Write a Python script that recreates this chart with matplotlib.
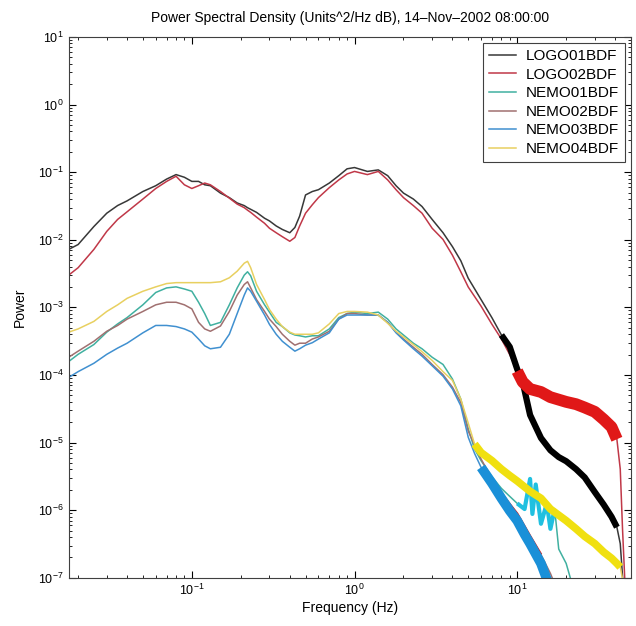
import numpy as np
import matplotlib
matplotlib.use("Agg")
import matplotlib.pyplot as plt

plt.rcParams['font.family'] = ['Liberation Sans', 'DejaVu Sans']

# shared frequency grid (Hz) for the low/mid part of every spectrum
freq_lo = [0.0175, 0.02, 0.025, 0.03, 0.035, 0.04, 0.05, 0.06, 0.07, 0.08,
           0.09, 0.1, 0.11, 0.12, 0.13, 0.15, 0.17, 0.19, 0.21, 0.22,
           0.23, 0.25, 0.28, 0.3, 0.33, 0.36, 0.4, 0.43, 0.46, 0.5,
           0.55, 0.6, 0.7, 0.8, 0.9, 1.0, 1.2, 1.4, 1.6, 1.8,
           2.0, 2.3, 2.6, 3.0, 3.5, 4.0, 4.5, 5.0]

logo01_lo = [0.0072, 0.0085, 0.0157, 0.0247, 0.0321, 0.0376, 0.0517, 0.063, 0.079, 0.092,
             0.084, 0.073, 0.073, 0.065, 0.063, 0.049, 0.042, 0.035, 0.032, 0.0298,
             0.0282, 0.0254, 0.0208, 0.019, 0.016, 0.0142, 0.0127, 0.0152, 0.0224, 0.046,
             0.0517, 0.055, 0.069, 0.0886, 0.112, 0.117, 0.1025, 0.108, 0.0886, 0.063,
             0.049, 0.04, 0.031, 0.020, 0.0127, 0.0079, 0.0049, 0.0027]
logo01_hf_f = [6, 7, 8, 9, 10, 10.8, 12, 14, 16, 18, 20, 23, 26, 30, 34, 38, 41, 43, 45, 46.4]
logo01_hf = [0.0013, 0.0007, 0.00039, 0.00026, 0.000122, 7.9e-5, 2.56e-5, 1.17e-5, 7.7e-6, 6.1e-6,
             5.3e-6, 4.05e-6, 3.05e-6, 1.85e-6, 1.21e-6, 8.0e-7, 5.6e-7, 3.2e-7, 6.7e-8, 2.2e-8]

logo02_lo = [0.003, 0.00386, 0.0072, 0.0133, 0.020, 0.0259, 0.04, 0.0573, 0.073, 0.087,
             0.065, 0.0573, 0.063, 0.069, 0.065, 0.0517, 0.0413, 0.0337, 0.0298, 0.0274,
             0.0254, 0.0216, 0.0175, 0.0148, 0.0127, 0.0111, 0.0095, 0.0108, 0.016, 0.0247,
             0.0329, 0.042, 0.059, 0.0767, 0.094, 0.1025, 0.092, 0.1025, 0.0767, 0.055,
             0.042, 0.032, 0.0247, 0.0148, 0.0101, 0.0059, 0.00336, 0.002]
logo02_hf_f = [6, 7, 8, 9, 10, 10.8, 12, 14, 16, 20, 23, 26, 30, 34, 38, 41, 43, 44.4, 46.4, 47.7]
logo02_hf = [0.00104, 0.00056, 0.00034, 0.0002, 0.000114, 7.9e-5, 6.2e-5, 5.6e-5, 4.7e-5, 4.0e-5,
             3.7e-5, 3.3e-5, 2.85e-5, 2.2e-5, 1.7e-5, 1.12e-5, 4.05e-6, 5.3e-7, 4.9e-8, 9e-9]

nemo01_lo = [0.000158, 0.000202, 0.000282, 0.00043, 0.00057, 0.000706, 0.00109, 0.00166, 0.00194, 0.00201,
             0.00187, 0.00173, 0.00119, 0.00081, 0.00054, 0.0006, 0.00109, 0.00194, 0.003, 0.00336,
             0.00293, 0.00173, 0.00109, 0.00085, 0.0006, 0.00052, 0.00042, 0.00039, 0.00038, 0.000365,
             0.00038, 0.00038, 0.00048, 0.000706, 0.00081, 0.00085, 0.00081, 0.00085, 0.00067, 0.00048,
             0.00039, 0.000295, 0.000244, 0.000183, 0.000143, 8.7e-5, 4.4e-5, 1.6e-5]
nemo01_hf_f = [5.47, 6, 7, 8, 9, 10, 11.1, 12, 12.4, 13.0, 14, 15.2, 16, 17.0, 18, 20, 21.3, 23, 24.2]
nemo01_hf = [8.0e-6, 5.4e-6, 3.1e-6, 2.1e-6, 1.6e-6, 1.26e-6, 1.04e-6, 2.9e-6, 8.8e-7, 2.4e-6,
             6.3e-7, 1.26e-6, 5.3e-7, 1.04e-6, 2.66e-7, 1.63e-7, 9.6e-8, 4.9e-8, 2.2e-8]

nemo02_lo = [0.000183, 0.000225, 0.000315, 0.000443, 0.00054, 0.00067, 0.00087, 0.00109, 0.00119, 0.00119,
             0.00109, 0.00095, 0.0006, 0.00048, 0.000443, 0.00053, 0.00087, 0.00152, 0.00218, 0.00239,
             0.00194, 0.0013, 0.00087, 0.00067, 0.00052, 0.0004, 0.000315, 0.000276, 0.000295, 0.000295,
             0.00034, 0.000365, 0.000443, 0.00067, 0.00081, 0.00081, 0.00077, 0.00077, 0.0006, 0.00043,
             0.00034, 0.000257, 0.000202, 0.000143, 0.000101, 6.6e-5, 3.9e-5, 1.48e-5]
nemo02_hf_f = [6, 7, 8, 10, 12, 14, 16, 18, 20]
nemo02_hf = [5.7e-6, 2.9e-6, 1.75e-6, 8.8e-7, 4.1e-7, 2.2e-7, 1.16e-7, 5.8e-8, 2.6e-8]

nemo03_lo = [9.2e-5, 0.000112, 0.000149, 0.000202, 0.00025, 0.000295, 0.00042, 0.00054, 0.00054, 0.00052,
             0.00048, 0.00043, 0.00034, 0.00027, 0.000244, 0.000257, 0.0004, 0.00081, 0.00152, 0.00194,
             0.00173, 0.00123, 0.00077, 0.00056, 0.0004, 0.000315, 0.000257, 0.000225, 0.000244, 0.000276,
             0.0003, 0.00034, 0.00042, 0.00067, 0.00077, 0.00077, 0.00077, 0.00077, 0.0006, 0.00042,
             0.00033, 0.000244, 0.00019, 0.000137, 9.6e-5, 6.2e-5, 3.5e-5, 1.2e-5]
nemo03_hf_f = [5.47, 6, 7, 8, 9, 10, 11.1, 12, 14, 15.2, 16, 17.0]
nemo03_hf = [6.9e-6, 4.3e-6, 2.5e-6, 1.5e-6, 9.8e-7, 7.0e-7, 4.4e-7, 3.2e-7, 1.63e-7, 9.6e-8, 6.3e-8, 4e-8]

nemo04_lo = [0.00043, 0.00048, 0.00062, 0.00087, 0.00109, 0.00136, 0.00173, 0.00201, 0.00225, 0.00232,
             0.00232, 0.00232, 0.00232, 0.00232, 0.00232, 0.00239, 0.00274, 0.00343, 0.0045, 0.0048,
             0.00386, 0.00218, 0.0013, 0.00093, 0.00067, 0.00052, 0.00043, 0.0004, 0.0004, 0.0004,
             0.0004, 0.00042, 0.00057, 0.00081, 0.00087, 0.00087, 0.00085, 0.00077, 0.00058, 0.000443,
             0.000365, 0.000282, 0.000221, 0.000164, 0.000112, 8.3e-5, 4.4e-5, 1.94e-5]
nemo04_hf_f = [5.47, 6, 7, 8, 9, 10, 12, 14, 16, 20, 23, 26, 30, 34, 38, 41, 43, 45, 47.1]
nemo04_hf = [9.5e-6, 7.1e-6, 5.4e-6, 4.05e-6, 3.25e-6, 2.7e-6, 1.9e-6, 1.5e-6, 1.04e-6, 7.0e-7,
             5.3e-7, 4.1e-7, 3.2e-7, 2.4e-7, 1.95e-7, 1.63e-7, 1.44e-7, 8.2e-8, 1.7e-8]

labels = ['LOGO01BDF', 'LOGO02BDF', 'NEMO01BDF', 'NEMO02BDF', 'NEMO03BDF', 'NEMO04BDF']
series = [(logo01_lo, logo01_hf_f, logo01_hf), (logo02_lo, logo02_hf_f, logo02_hf),
          (nemo01_lo, nemo01_hf_f, nemo01_hf), (nemo02_lo, nemo02_hf_f, nemo02_hf),
          (nemo03_lo, nemo03_hf_f, nemo03_hf), (nemo04_lo, nemo04_hf_f, nemo04_hf)]
thin_colors = ['#383838', '#c03848', '#40b0a0', '#a07070', '#4090d0', '#e8d060']
band_colors = ['#000000', '#e01818', '#20c0e0', '#d02020', '#1a90d8', '#f0e010']
# (fmin, fmax, width in pt) of the thick noisy part at high frequency
bands = [(8, 42, 4.5), (10, 42, 8.5), (10, 17, 3.0), (8, 14, 2.0), (6, 16, 7.0), (5.4, 44, 5.5)]

fig = plt.figure(figsize=(6.36, 6.26), dpi=100)
ax = fig.add_axes([0.108, 0.077, 0.884, 0.864])

for (lo, hf_f, hf), lab, c in zip(series, labels, thin_colors):
    f = np.array(freq_lo + hf_f)
    p = np.array(lo + hf)
    ax.loglog(f, p, color=c, lw=1.1, label=lab)

for (lo, hf_f, hf), bc, (f0, f1, w) in zip(series, band_colors, bands):
    f = np.array(freq_lo + hf_f)
    p = np.array(lo + hf)
    m = (f >= f0) & (f <= f1)
    ax.loglog(f[m], p[m], color=bc, lw=w, solid_capstyle='butt')

ax.set_xlim(0.0175, 50)
ax.set_ylim(1e-7, 1e1)
ax.tick_params(which='both', direction='in', top=True, right=True, labelsize=9)
ax.tick_params(which='major', length=5)
ax.tick_params(which='minor', length=2.5)
for s in ax.spines.values():
    s.set_linewidth(0.8)
    s.set_color('#404040')

ax.set_xlabel('Frequency (Hz)', fontsize=10, labelpad=2)
ax.set_ylabel('Power', fontsize=10, labelpad=8)
ax.set_title('Power Spectral Density (Units^2/Hz dB), 14\u2013Nov\u20132002 08:00:00',
             fontsize=10, pad=11)

leg = ax.legend(loc='upper right', fontsize=11, fancybox=False, framealpha=1,
                edgecolor='#404040', handlelength=1.8, handletextpad=0.6,
                labelspacing=0.3, borderaxespad=0.4)
leg.get_frame().set_linewidth(0.8)

fig.savefig('out.png', dpi=100)
